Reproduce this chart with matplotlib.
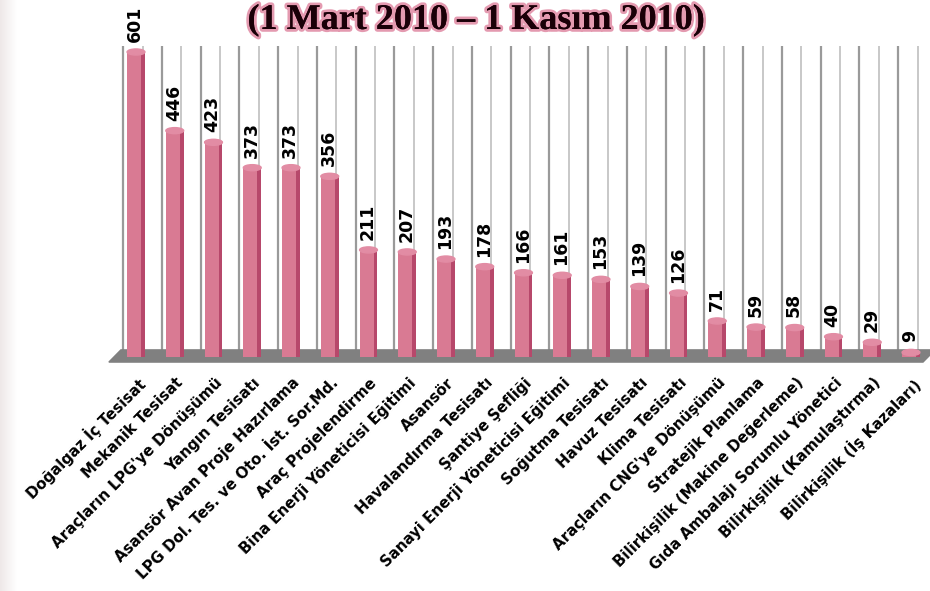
import numpy as np
import matplotlib
matplotlib.use("Agg")
from matplotlib import pyplot as plt
from matplotlib.patches import Polygon, Ellipse
import matplotlib.patheffects as pe

# data
categories = [
    "Doğalgaz İç Tesisat", "Mekanik Tesisat", "Araçların LPG'ye Dönüşümü",
    "Yangın Tesisatı", "Asansör Avan Proje Hazırlama",
    "LPG Dol. Tes. ve Oto. İst. Sor.Md.", "Araç Projelendirme",
    "Bina Enerji Yöneticisi Eğitimi", "Asansör", "Havalandırma Tesisatı",
    "Şantiye Şefliği", "Sanayi Enerji Yöneticisi Eğitimi", "Soğutma Tesisatı",
    "Havuz Tesisatı", "Klima Tesisatı", "Araçların CNG'ye Dönüşümü",
    "Stratejik Planlama", "Bilirkişilik (Makine Değerleme)",
    "Gıda Ambalajı Sorumlu Yönetici", "Bilirkişilik (Kamulaştırma)",
    "Bilirkişilik (İş Kazaları)",
]
values = [601, 446, 423, 373, 373, 356, 211, 207, 193, 178, 166, 161, 153,
          139, 126, 71, 59, 58, 40, 29, 9]
title = "(1 Mart 2010 – 1 Kasım 2010)"

W, H = 930, 591
fig = plt.figure(figsize=(W / 100, H / 100), dpi=100)

# faint shaded strip on the left edge
bg = fig.add_axes([0, 0, 16 / W, 1])
grad = np.linspace(0, 1, 50).reshape(1, -1)
bg.imshow(grad, aspect="auto", cmap=matplotlib.colors.LinearSegmentedColormap.from_list(
    "g", ["#eee8e8", "#ffffff"]), extent=[0, 1, 0, 1])
bg.axis("off")

ax = fig.add_axes([0, 0, 1, 1])
ax.patch.set_alpha(0)
# pixel mapping: i -> 136 + 38.75*i, value 0 -> 234 px from bottom, 0.5075 px/unit
step = 38.75
ax.set_xlim(-136 / step, (W - 136) / step)
ax.set_ylim(-234 / 0.5075, (H - 234) / 0.5075)
ax.axis("off")

x = np.arange(len(values))

# back wall gridlines
ax.vlines(x - 0.33, 10, 613, color="#9a9a9a", lw=1.6, zorder=1)
ax.vlines(x + 0.17, 10, 613, color="#c4c4c4", lw=1.3, zorder=1)

# floor
floor = Polygon([(-0.70, -10), (-0.39, 14), (20.62, 14), (20.31, -10)],
                closed=True, color="#808080", zorder=2)
ax.add_patch(floor)

# bars
bw = 0.46
ax.bar(x, values, width=bw, color="#d97a93", zorder=3)
ax.bar(x + bw / 2 - 0.05, values, width=0.10, color="#b7486b", zorder=3)
for xi, v in zip(x, values):
    ax.add_patch(Ellipse((xi, v), bw, 12, color="#e28ca4", zorder=4))
    ax.text(xi - 0.02, v + 20, str(v), rotation=90, ha="center", va="bottom",
            fontsize=12.5, fontweight="bold", color="black", zorder=5)

# category labels
for xi, c in zip(x, categories):
    ax.text(xi + 0.02, -36, c, rotation=45, rotation_mode="anchor",
            ha="right", va="top", fontsize=10.8, fontweight="bold", color="black")

fig.text(476 / W, 1 - 29 / H, title, ha="center", va="baseline",
         fontsize=26, fontweight="bold", family="Liberation Serif",
         color="#1a0008",
         path_effects=[pe.withStroke(linewidth=4, foreground="#e49ab0"), pe.Normal()])

plt.savefig("out.png", dpi=100)
